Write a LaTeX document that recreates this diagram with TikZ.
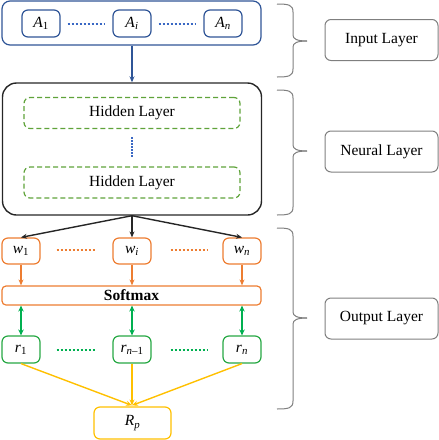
\documentclass[tikz,border=0pt]{standalone}
\usepackage{fontspec}
\setmainfont{Liberation Serif}
\usetikzlibrary{arrows.meta,calc}
\definecolor{cblue}{HTML}{2F5597}
\definecolor{cdot}{HTML}{3A68C4}
\definecolor{corange}{HTML}{ED7D31}
\definecolor{cgreenD}{HTML}{5FA33A}
\definecolor{cgreen}{HTML}{00B050}
\definecolor{cgreenB}{HTML}{27A844}
\definecolor{cyellow}{HTML}{FFC000}
\definecolor{cgray}{HTML}{7F7F7F}
\definecolor{cdark}{HTML}{262626}
\tikzset{
  txt/.style={font=\fontsize{15.5}{17}\selectfont},
  boxbase/.style={txt, rounded corners=6pt, line width=1.2pt, inner sep=0pt, anchor=center},
  bluebox/.style={boxbase, draw=cblue, minimum width=38pt, minimum height=27pt},
  wbox/.style={boxbase, draw=corange, minimum width=38pt, minimum height=26pt},
  rbox/.style={boxbase, draw=cgreenB, minimum width=38pt, minimum height=27pt},
  hidbox/.style={boxbase, draw=cgreenD, dash pattern=on 5pt off 3pt, minimum width=216pt, minimum height=31pt},
  labbox/.style={boxbase, draw=cgray, line width=1pt, minimum width=113pt, minimum height=41pt},
  dots/.style={line width=2pt, dash pattern=on 2pt off 2pt},
  arr/.style={line width=1.4pt, -{Stealth[length=6pt,width=5pt]}},
  darr/.style={line width=1.7pt, {Stealth[length=6pt,width=5.5pt]}-{Stealth[length=6pt,width=5.5pt]}},
  bracepath/.style={draw=cgray, line width=1pt}
}
\begin{document}
\begin{tikzpicture}[x=1pt,y=-1pt]
\useasboundingbox (0,0) rectangle (439,440);
% Input layer
\node[boxbase, draw=cblue, minimum width=259pt, minimum height=44pt, rounded corners=8pt] (inp) at (131.5,23) {};
\node[bluebox] (A1) at (41,23.5) {\textit{A}\textsubscript{1}};
\node[bluebox] (Ai) at (132,23.5) {\textit{A}\textsubscript{\textit{i}}};
\node[bluebox] (An) at (223,23.5) {\textit{A}\textsubscript{\textit{n}}};
\draw[dots, cdot] ($(A1.east)+(7,0.5)$) -- ($(Ai.west)+(-7,0.5)$);
\draw[dots, cdot] ($(Ai.east)+(7,0.5)$) -- ($(An.west)+(-7,0.5)$);
% Neural layer
\node[boxbase, draw=cdark, line width=1.4pt, minimum width=259pt, minimum height=132pt, rounded corners=14pt] (neu) at (132,149) {};
\draw[arr, cblue] (Ai.south |- inp.south) -- (Ai.south |- neu.north);
\node[hidbox] (h1) at (132,113) {Hidden Layer};
\node[hidbox] (h2) at (132,182.5) {Hidden Layer};
\draw[cdot, line width=1.6pt, dash pattern=on 1.5pt off 1.5pt] ($(h1.south)+(0,8)$) -- ($(h2.north)+(0,-9)$);
% Output layer
\node[wbox] (w1) at (21,251) {\textit{w}\textsubscript{1}};
\node[wbox] (wi) at (132,251) {\textit{w}\textsubscript{\textit{i}}};
\node[wbox] (wn) at (242,251) {\textit{w}\textsubscript{\textit{n}}};
\draw[dots, corange] ($(w1.east)+(16,-1)$) -- ($(wi.west)+(-16,-1)$);
\draw[dots, corange] ($(wi.east)+(19,-1)$) -- ($(wn.west)+(-14,-1)$);
\draw[arr, cdark] (neu.south) -- (w1.north);
\draw[arr, cdark] (neu.south) -- (wi.north);
\draw[arr, cdark] (neu.south) -- (wn.north);
\node[boxbase, draw=corange, minimum width=259pt, minimum height=19pt, rounded corners=4pt, font=\fontsize{15.5}{17}\selectfont\bfseries] (sm) at (131.5,295.5) {Softmax};
\draw[arr, corange] (w1.south) -- (w1.south |- sm.north);
\draw[arr, corange] (wi.south) -- (wi.south |- sm.north);
\draw[arr, corange] (wn.south) -- (wn.south |- sm.north);
\node[rbox] (r1) at (21,349.5) {\textit{r}\textsubscript{1}};
\node[rbox] (rm) at (132,349.5) {\textit{r}\textsubscript{\textit{n}–1}};
\node[rbox] (rn) at (242,349.5) {\textit{r}\textsubscript{\textit{n}}};
\draw[dots, cgreen] ($(r1.east)+(16,0)$) -- ($(rm.west)+(-16,0)$);
\draw[dots, cgreen] ($(rm.east)+(19,0)$) -- ($(rn.west)+(-14,0)$);
\draw[darr, cgreen] (r1.north |- sm.south) -- (r1.north);
\draw[darr, cgreen] (rm.north |- sm.south) -- (rm.north);
\draw[darr, cgreen] (rn.north |- sm.south) -- (rn.north);
\node[boxbase, draw=cyellow, minimum width=77pt, minimum height=32pt] (rp) at (132.5,423) {\textit{R}\textsubscript{\textit{p}}};
\coordinate (rpt) at ($(rp.north)+(-0.5,-1)$);
\draw[arr, cyellow] (r1.south) -- (rpt);
\draw[arr, cyellow] (rm.south) -- (rpt);
\draw[arr, cyellow] (rn.south) -- (rpt);
% Braces
\foreach \ya/\ym/\yb in {4/41/77, 90/151/215, 228/318/409}{
  \draw[bracepath] (277,\ya) .. controls (289,\ya) and (293,\ya+1) .. (293,\ya+8) -- (293,\ym-6) .. controls (293,\ym-2) and (297,\ym) .. (307,\ym);
  \draw[bracepath] (307,\ym) .. controls (297,\ym) and (293,\ym+2) .. (293,\ym+6) -- (293,\yb-8) .. controls (293,\yb-1) and (289,\yb) .. (277,\yb);
}
% Labels
\node[labbox] (lin) at (381.5,40) {Input Layer};
\node[labbox] (lne) at (381.5,151.5) {Neural Layer};
\node[labbox] (lou) at (381.5,318.5) {Output Layer};
\end{tikzpicture}
\end{document}
